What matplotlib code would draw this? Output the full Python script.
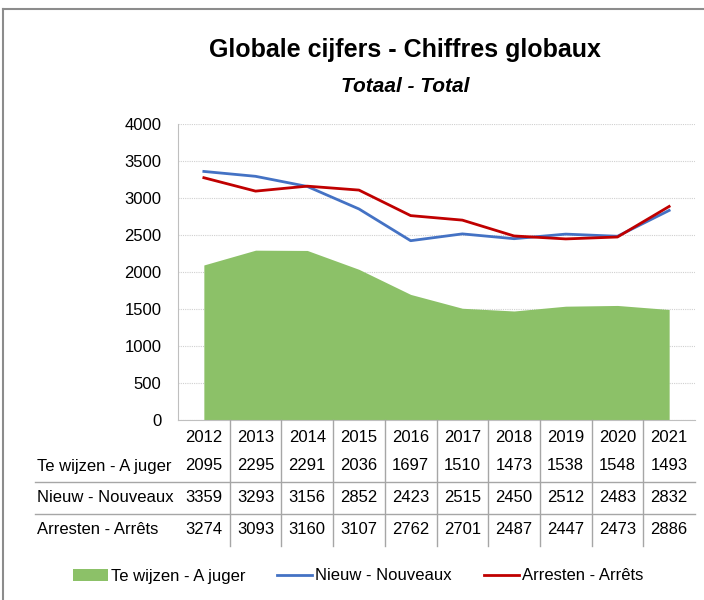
import matplotlib.pyplot as plt
from matplotlib.lines import Line2D

plt.rcParams['font.family'] = ['Liberation Sans Narrow', 'Liberation Sans', 'DejaVu Sans']

# Data
years = ['2012', '2013', '2014', '2015', '2016', '2017', '2018', '2019', '2020', '2021']
te_wijzen = [2095, 2295, 2291, 2036, 1697, 1510, 1473, 1538, 1548, 1493]
nieuw = [3359, 3293, 3156, 2852, 2423, 2515, 2450, 2512, 2483, 2832]
arresten = [3274, 3093, 3160, 3107, 2762, 2701, 2487, 2447, 2473, 2886]
row_labels = ['Te wijzen - A juger', 'Nieuw - Nouveaux', 'Arresten - Arrêts']

green = '#8CC168'
blue = '#4472C4'
red = '#C00000'
W, H = 704, 600

fig = plt.figure(figsize=(W / 100, H / 100), dpi=100)

# outer chart border (left and top visible)
fig.add_artist(Line2D([3 / W, 3 / W], [0, 1 - 9 / H], color='#8C8C8C', lw=1.5))
fig.add_artist(Line2D([3 / W, 1], [1 - 9 / H, 1 - 9 / H], color='#8C8C8C', lw=1.5))

x0, x1, ytop, ybot = 178, 695, 124, 420
ax = fig.add_axes([x0 / W, 1 - ybot / H, (x1 - x0) / W, (ybot - ytop) / H])
x = range(len(years))
ax.fill_between(x, 0, te_wijzen, color=green, lw=0, label='Te wijzen - A juger')
ax.plot(x, nieuw, color=blue, lw=2, label='Nieuw - Nouveaux')
ax.plot(x, arresten, color=red, lw=2, label='Arresten - Arrêts')

ax.set_xlim(-0.5, len(years) - 0.5)
ax.set_ylim(0, 4000)
ax.set_yticks(range(0, 4001, 500))
ax.set_xticks([])
ax.tick_params(axis='y', length=0, labelsize=12, pad=12)
ax.grid(axis='y', color='#D0D0D0', lw=0.8, ls=(0, (1, 1)))
ax.set_axisbelow(True)
for s in ['top', 'right']:
    ax.spines[s].set_visible(False)
for s in ['left', 'bottom']:
    ax.spines[s].set_color('#BFBFBF')

# data table below the axis
colw = (x1 - x0) / len(years)
row_y = [437, 466, 497, 529]
for i, yr in enumerate(years):
    cx = (x0 + colw * (i + 0.5)) / W
    fig.text(cx, 1 - row_y[0] / H, yr, ha='center', va='center', fontsize=12)
    for r, series in enumerate([te_wijzen, nieuw, arresten]):
        fig.text(cx, 1 - row_y[r + 1] / H, str(series[i]), ha='center', va='center', fontsize=12)
for r, lab in enumerate(row_labels):
    fig.text(37 / W, 1 - row_y[r + 1] / H, lab, ha='left', va='center', fontsize=12)
for i in range(1, len(years)):
    xx = (x0 + colw * i) / W
    fig.add_artist(Line2D([xx, xx], [1 - ybot / H, 1 - 546 / H], color='#A6A6A6', lw=1))
for yy in [482, 514]:
    fig.add_artist(Line2D([35 / W, x1 / W], [1 - yy / H, 1 - yy / H], color='#A6A6A6', lw=1))

# titles
fig.text(405 / W, 1 - 50 / H, 'Globale cijfers - Chiffres globaux', ha='center', va='center',
         fontsize=18, fontweight='bold')
fig.text(405 / W, 1 - 87 / H, 'Totaal - Total', ha='center', va='center',
         fontsize=15, fontweight='bold', style='italic')

fig.legend(loc='center', bbox_to_anchor=(358 / W, 1 - 576 / H), ncol=3, frameon=False,
           fontsize=12, handlelength=2.1, handletextpad=0.2, columnspacing=1.9)

fig.savefig('out.png', dpi=100)
